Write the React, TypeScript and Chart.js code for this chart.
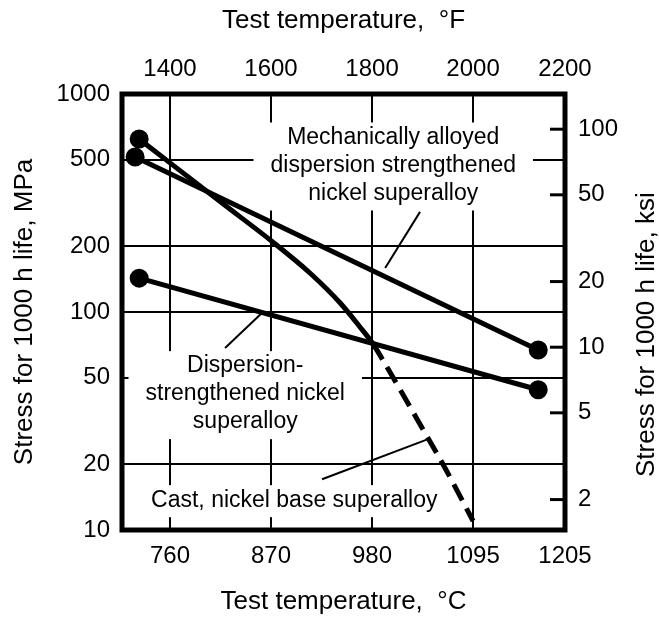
import React, { useEffect, useRef } from 'react';
import { Chart, registerables } from 'chart.js';

Chart.register(...registerables);

// ---- data ----
const xTickTempF = [1400, 1600, 1800, 2000, 2200];
const topTickLabels = ['1400', '1600', '1800', '2000', '2200'];
const bottomTickLabels = ['760', '870', '980', '1095', '1205'];
const stressTicksMPa = [10, 20, 50, 100, 200, 500, 1000];
const stressTicksKsi = [2, 5, 10, 20, 50, 100];

const mechTempF = [1331, 2129];
const mechStress = [514, 67];
const dispTempF = [1339, 2129];
const dispStress = [143, 44];
const castTempF = [1339, 1400, 1503, 1604, 1677, 1737, 1776, 1802, 1826, 1889, 1948, 2000];
const castStress = [622, 483, 316, 209, 151, 110, 85.4, 71.3, 57.7, 32.3, 18.6, 11.0];
const castDashFromF = 1800;

const mechLabel = ['Mechanically alloyed', 'dispersion strengthened', 'nickel superalloy'];
const dispLabel = ['Dispersion-', 'strengthened nickel', 'superalloy'];
const castLabel = ['Cast, nickel base superalloy'];

const X_MIN = 1305;
const X_MAX = 2182;
const Y_MIN = 10;
const Y_MAX = 1000;
const MPA_PER_KSI = 6.895;

// annotation anchors (data coords: °F, MPa)
const annotations = [
  { lines: mechLabel, at: [1842, 470], leader: [[1895, 288], [1826, 159]] },
  { lines: dispLabel, at: [1549, 42], leader: [[1509, 68.4], [1582, 98.9]] },
  { lines: castLabel, at: [1646, 13.7], leader: [[1701, 17.1], [1911, 26.1]] },
];

const FONT_FAMILY = "'Liberation Sans', Arial, Helvetica, sans-serif";
const TICK_FONT = { family: FONT_FAMILY, size: 24 };
const TITLE_FONT = { family: FONT_FAMILY, size: 26 };
const LABEL_SIZE = 23;
const LINE_GAP = 28;

const toPoints = (xs: number[], ys: number[]) => xs.map((x, i) => ({ x, y: ys[i] }));

const annotPlugin = {
  id: 'annot',
  beforeDatasetsDraw(chart: any) {
    const { ctx, scales } = chart;
    const x = scales.x;
    const y = scales.y;
    ctx.save();
    ctx.font = `${LABEL_SIZE}px ${FONT_FAMILY}`;
    ctx.fillStyle = '#fff';
    annotations.forEach((a) => {
      const cx = x.getPixelForValue(a.at[0]);
      const cy = y.getPixelForValue(a.at[1]);
      const n = a.lines.length;
      const firstY = cy - ((n - 1) / 2) * LINE_GAP;
      const lastY = cy + ((n - 1) / 2) * LINE_GAP;
      const maxW = Math.max(...a.lines.map((l) => ctx.measureText(l).width));
      const padX = 17;
      ctx.fillRect(cx - maxW / 2 - padX, firstY - 15, maxW + 2 * padX, lastY - firstY + 32);
    });
    ctx.restore();
  },
  afterDatasetsDraw(chart: any) {
    const { ctx, scales, chartArea } = chart;
    const x = scales.x;
    const y = scales.y;
    const y2 = scales.y2;
    ctx.save();
    ctx.fillStyle = '#000';
    ctx.strokeStyle = '#000';
    ctx.font = `${LABEL_SIZE}px ${FONT_FAMILY}`;
    ctx.textAlign = 'center';
    ctx.textBaseline = 'middle';
    annotations.forEach((a) => {
      const cx = x.getPixelForValue(a.at[0]);
      const cy = y.getPixelForValue(a.at[1]);
      const n = a.lines.length;
      a.lines.forEach((l, i) => {
        ctx.fillText(l, cx, cy + (i - (n - 1) / 2) * LINE_GAP);
      });
      ctx.lineWidth = 2;
      ctx.beginPath();
      ctx.moveTo(x.getPixelForValue(a.leader[0][0]), y.getPixelForValue(a.leader[0][1]));
      ctx.lineTo(x.getPixelForValue(a.leader[1][0]), y.getPixelForValue(a.leader[1][1]));
      ctx.stroke();
    });
    // inward ticks on the ksi axis
    ctx.lineWidth = 3;
    stressTicksKsi.forEach((v) => {
      const py = y2.getPixelForValue(v);
      ctx.beginPath();
      ctx.moveTo(chartArea.right - 15, py);
      ctx.lineTo(chartArea.right, py);
      ctx.stroke();
    });
    ctx.restore();
  },
  afterDraw(chart: any) {
    const { ctx, chartArea } = chart;
    ctx.save();
    ctx.strokeStyle = '#000';
    ctx.lineWidth = 5;
    ctx.strokeRect(chartArea.left, chartArea.top, chartArea.right - chartArea.left, chartArea.bottom - chartArea.top);
    // right axis title, reading bottom to top
    ctx.fillStyle = '#000';
    ctx.font = `${TITLE_FONT.size}px ${FONT_FAMILY}`;
    ctx.textAlign = 'left';
    ctx.textBaseline = 'middle';
    ctx.translate(647, 477);
    ctx.rotate(-Math.PI / 2);
    ctx.fillText('Stress for 1000 h life, ksi', 0, 0);
    ctx.restore();
  },
};

export default function App() {
  const ref = useRef<HTMLCanvasElement | null>(null);

  useEffect(() => {
    document.body.style.margin = '0';
    const canvas = ref.current;
    if (!canvas) return;

    const lineBase = {
      borderColor: '#000',
      backgroundColor: '#000',
      pointBackgroundColor: '#000',
      pointBorderColor: '#000',
      borderWidth: 5,
      fill: false,
    };

    const chart = new Chart(canvas, {
      type: 'line',
      data: {
        datasets: [
          {
            ...lineBase,
            label: 'Mechanically alloyed dispersion strengthened nickel superalloy',
            data: toPoints(mechTempF, mechStress),
            pointRadius: 7,
            tension: 0,
          },
          {
            ...lineBase,
            label: 'Dispersion-strengthened nickel superalloy',
            data: toPoints(dispTempF, dispStress),
            pointRadius: 7,
            tension: 0,
          },
          {
            ...lineBase,
            label: 'Cast, nickel base superalloy',
            data: toPoints(castTempF, castStress),
            pointRadius: (c: any) => (c.dataIndex === 0 ? 7 : 0),
            cubicInterpolationMode: 'monotone',
            segment: {
              borderDash: (c: any) => (c.p0.parsed.x >= castDashFromF ? [18, 9] : undefined),
            },
          },
        ],
      },
      options: {
        animation: false,
        responsive: false,
        maintainAspectRatio: false,
        layout: { padding: 0 },
        plugins: {
          legend: { display: false },
          tooltip: { enabled: false },
        },
        scales: {
          x: {
            type: 'linear',
            position: 'bottom',
            min: X_MIN,
            max: X_MAX,
            afterBuildTicks: (s: any) => {
              s.ticks = xTickTempF.map((v) => ({ value: Math.min(v, X_MAX) }));
            },
            afterFit: (s: any) => {
              s.height = 90;
            },
            ticks: {
              autoSkip: false,
              maxRotation: 0,
              padding: 12,
              color: '#000',
              font: TICK_FONT,
              callback: (_v: any, i: number) => bottomTickLabels[i],
            },
            grid: { color: '#000', lineWidth: 2, drawTicks: false },
            border: { display: false },
            title: {
              display: true,
              text: 'Test temperature,  °C',
              color: '#000',
              font: TITLE_FONT,
              padding: { top: 0, bottom: 3 },
            },
          },
          x2: {
            type: 'linear',
            position: 'top',
            min: X_MIN,
            max: X_MAX,
            afterBuildTicks: (s: any) => {
              s.ticks = xTickTempF.map((v) => ({ value: Math.min(v, X_MAX) }));
            },
            afterFit: (s: any) => {
              s.height = 94;
            },
            ticks: {
              autoSkip: false,
              maxRotation: 0,
              padding: 10,
              color: '#000',
              font: TICK_FONT,
              callback: (_v: any, i: number) => topTickLabels[i],
            },
            grid: { display: false, drawTicks: false },
            border: { display: false },
            title: {
              display: true,
              text: 'Test temperature,  °F',
              color: '#000',
              font: TITLE_FONT,
              padding: { top: 5, bottom: 0 },
            },
          },
          y: {
            type: 'logarithmic',
            position: 'left',
            min: Y_MIN,
            max: Y_MAX,
            afterBuildTicks: (s: any) => {
              s.ticks = stressTicksMPa.map((v) => ({ value: v }));
            },
            afterFit: (s: any) => {
              s.width = 122;
            },
            ticks: {
              autoSkip: false,
              padding: 12,
              color: '#000',
              font: TICK_FONT,
              callback: (v: any) => String(v),
            },
            grid: { color: '#000', lineWidth: 2, drawTicks: false },
            border: { display: false },
            title: {
              display: true,
              text: 'Stress for 1000 h life, MPa',
              color: '#000',
              font: TITLE_FONT,
              padding: { top: 9, bottom: 0 },
            },
          },
          y2: {
            type: 'logarithmic',
            position: 'right',
            min: Y_MIN / MPA_PER_KSI,
            max: Y_MAX / MPA_PER_KSI,
            afterBuildTicks: (s: any) => {
              s.ticks = stressTicksKsi.map((v) => ({ value: v }));
            },
            afterFit: (s: any) => {
              s.width = 94;
            },
            ticks: {
              autoSkip: false,
              padding: 13,
              color: '#000',
              font: TICK_FONT,
              callback: (v: any) => String(v),
            },
            grid: { display: false, drawTicks: false },
            border: { display: false },
          },
        },
      },
      plugins: [annotPlugin],
    } as any);

    return () => {
      chart.destroy();
    };
  }, []);

  return (
    <div style={{ width: 659, height: 620, background: '#fff' }}>
      <canvas ref={ref} width={659} height={620} style={{ display: 'block' }} />
    </div>
  );
}
